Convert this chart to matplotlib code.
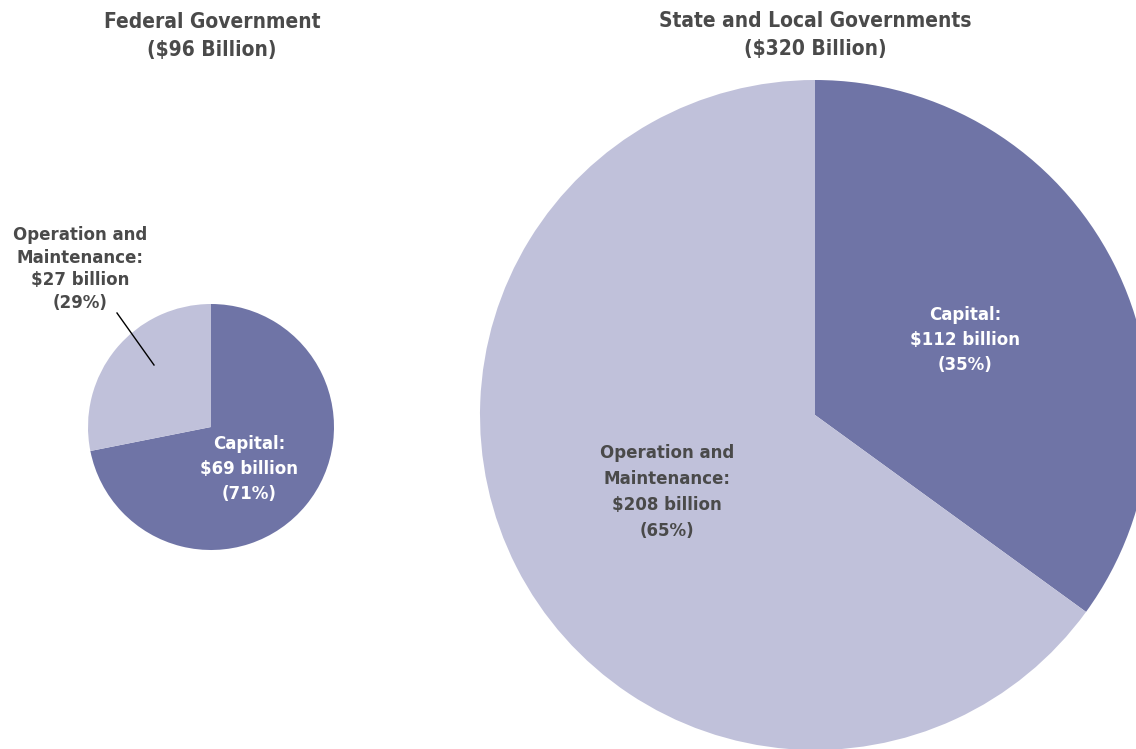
import matplotlib
matplotlib.use('Agg')
import matplotlib.pyplot as plt

# values (billions of dollars)
fed_labels = ['Capital', 'Operation and Maintenance']
fed_values = [69, 27]
fed_pct = [71, 29]
sl_labels = ['Capital', 'Operation and Maintenance']
sl_values = [112, 208]
sl_pct = [35, 65]

dark = '#6f74a6'
light = '#c0c1da'
txt = '#4a4a4a'
plt.rcParams['font.family'] = ['DejaVu Sans']
plt.rcParams['font.stretch'] = 'condensed'
plt.rcParams['font.weight'] = 'bold'

W, H = 1136, 749
fig = plt.figure(figsize=(W / 100, H / 100), dpi=100)
ax = fig.add_axes([0, 0, 1, 1])

def Y(py):
    return H - py

# federal pie
ax.pie(fed_values, colors=[dark, light], startangle=90, counterclock=False,
       center=(211, Y(427)), radius=123, frame=True)
# state and local pie
ax.pie(sl_values, colors=[dark, light], startangle=90, counterclock=False,
       center=(815, Y(415)), radius=335, frame=True)
ax.set_xlim(0, W)
ax.set_ylim(0, H)
ax.set_aspect('equal')
ax.axis('off')

ax.text(212, Y(36), 'Federal Government\n($%d Billion)' % sum(fed_values),
        ha='center', va='center', fontsize=15, color=txt, linespacing=1.45)
ax.text(815, Y(35), 'State and Local Governments\n($%d Billion)' % sum(sl_values),
        ha='center', va='center', fontsize=15, color=txt, linespacing=1.45)

ax.text(80, Y(269), 'Operation and\nMaintenance:\n$%d billion\n(%d%%)' % (fed_values[1], fed_pct[1]),
        ha='center', va='center', fontsize=13.3, color=txt, linespacing=1.34)
ax.plot([117, 154], [Y(313), Y(365)], color='black', lw=1)
ax.text(249, Y(469), 'Capital:\n$%d billion\n(%d%%)' % (fed_values[0], fed_pct[0]),
        ha='center', va='center', fontsize=13.3, color='white', linespacing=1.53)

ax.text(965, Y(340), 'Capital:\n$%d billion\n(%d%%)' % (sl_values[0], sl_pct[0]),
        ha='center', va='center', fontsize=13.3, color='white', linespacing=1.53)
ax.text(667, Y(492), 'Operation and\nMaintenance:\n$%d billion\n(%d%%)' % (sl_values[1], sl_pct[1]),
        ha='center', va='center', fontsize=13.3, color=txt, linespacing=1.55)

fig.savefig('out.png', dpi=100)
